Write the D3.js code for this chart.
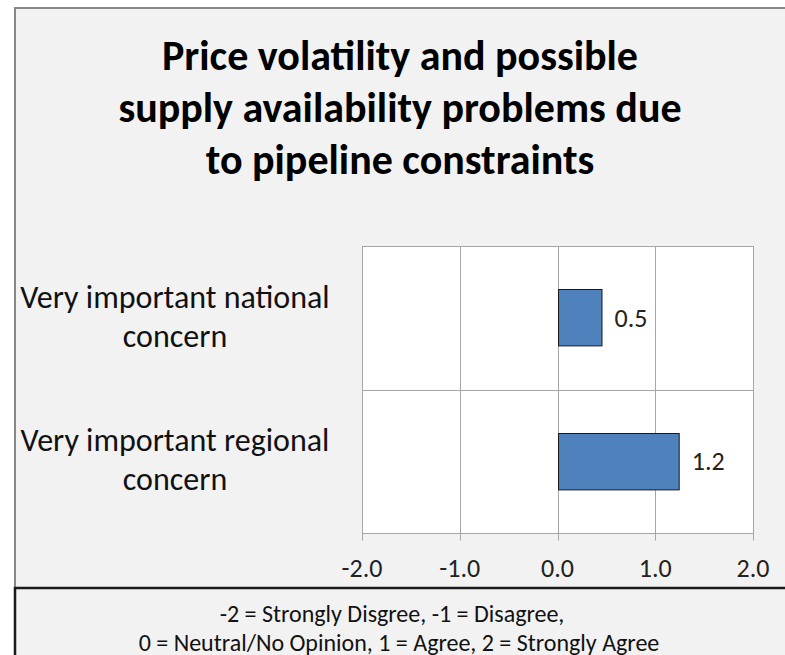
<!DOCTYPE html>
<html lang="en">
  <head>
    <meta charset="UTF-8">
    <title>Price volatility</title>
    <style>
      html, body {
        margin: 0;
        padding: 0;
        background: #fff;
      }

      text {
        font-family: Carlito, Calibri, Lato, sans-serif;
        fill: #000;
      }

      .grid line {
        stroke: #a6a6a6;
        stroke-width: 1px;
      }

      .bar {
        fill: #4f81bd;
        stroke: #1a1a1a;
        stroke-width: 1px;
      }
    </style>
  </head>
  <body>
    <svg width="785" height="655"></svg>
    <script src="https://cdn.jsdelivr.net/npm/d3@7/dist/d3.min.js"></script>
    <script>
      // data
      const titleLines = ['Price volatility and possible', 'supply availability problems due', 'to pipeline constraints']
      const categories = ['Very important national concern', 'Very important regional concern']
      const categoryLines = [['Very important national', 'concern'], ['Very important regional', 'concern']]
      const values = [0.45, 1.24]
      const ticks = [-2, -1, 0, 1, 2]
      const footnote = ['-2 = Strongly Disgree, -1 = Disagree,', '0 = Neutral/No Opinion, 1 = Agree, 2 = Strongly Agree']

      const svg = d3.select('svg')

      // chart frame
      svg.append('rect')
        .attr('x', 15).attr('y', 8)
        .attr('width', 800).attr('height', 620)
        .attr('fill', '#f2f2f2')
        .attr('stroke', '#888').attr('stroke-width', 2)

      // footnote box
      svg.append('rect')
        .attr('x', 15).attr('y', 588)
        .attr('width', 800).attr('height', 100)
        .attr('fill', '#f2f2f2')
        .attr('stroke', '#1a1a1a').attr('stroke-width', 2.5)

      // title
      svg.append('g').selectAll('text')
        .data(titleLines)
        .enter().append('text')
        .attr('x', 400)
        .attr('y', (d, i) => 70 + i * 52)
        .attr('text-anchor', 'middle')
        .style('font-size', '42px')
        .style('font-weight', 'bold')
        .text(d => d)

      const x = d3.scaleLinear().domain([-2, 2]).range([362, 753])
      const y = d3.scaleBand().domain(categories).range([246, 533])
        .paddingInner(0.6).paddingOuter(0.3)

      // plot background
      svg.append('rect')
        .attr('x', x(-2)).attr('y', 246)
        .attr('width', x(2) - x(-2)).attr('height', 533 - 246)
        .attr('fill', '#fff')

      const grid = svg.append('g').attr('class', 'grid')

      // vertical gridlines + tick marks
      grid.selectAll('.vg')
        .data(ticks)
        .enter().append('line')
        .attr('x1', d => Math.round(x(d)) + 0.5)
        .attr('x2', d => Math.round(x(d)) + 0.5)
        .attr('y1', 246)
        .attr('y2', 540.5)

      // category separators (top, between, bottom axis)
      const seps = [246, 246 + (533 - 246) / 2, 533]
      grid.selectAll('.hg')
        .data(seps)
        .enter().append('line')
        .attr('x1', x(-2))
        .attr('x2', x(2) + 1)
        .attr('y1', d => Math.round(d) + 0.5)
        .attr('y2', d => Math.round(d) + 0.5)

      // x tick labels
      svg.append('g').selectAll('text')
        .data(ticks)
        .enter().append('text')
        .attr('x', d => x(d))
        .attr('y', 577)
        .attr('text-anchor', 'middle')
        .style('font-size', '26px')
        .style('fill', '#222')
        .text(d => d3.format('.1f')(d).replace('−', '-'))

      // bars
      svg.append('g').selectAll('rect')
        .data(values)
        .enter().append('rect')
        .attr('class', 'bar')
        .attr('x', Math.round(x(0)) + 0.5)
        .attr('y', (d, i) => Math.round(y(categories[i])) + 0.5)
        .attr('width', d => x(d) - Math.round(x(0)))
        .attr('height', y.bandwidth() - 1)

      // value labels
      svg.append('g').selectAll('text')
        .data(values)
        .enter().append('text')
        .attr('x', d => x(d) + 13)
        .attr('y', (d, i) => y(categories[i]) + y.bandwidth() / 2 + 9)
        .style('font-size', '26px')
        .style('fill', '#222')
        .text(d => d3.format('.1f')(d))

      // category labels
      const cat = svg.append('g').selectAll('text')
        .data(categoryLines)
        .enter().append('text')
        .attr('text-anchor', 'middle')
        .style('font-size', '32px')
        .style('fill', '#111')
        .attr('y', (d, i) => y(categories[i]) + y.bandwidth() / 2 - 10)

      cat.selectAll('tspan')
        .data(d => d)
        .enter().append('tspan')
        .attr('x', 175)
        .attr('dy', (d, i) => i === 0 ? 0 : 39)
        .text(d => d)

      // footnote
      svg.append('g').selectAll('text')
        .data(footnote)
        .enter().append('text')
        .attr('x', (d, i) => i === 0 ? 392 : 399)
        .attr('y', (d, i) => 622 + i * 29)
        .attr('text-anchor', 'middle')
        .style('font-size', '24px')
        .style('fill', '#111')
        .text(d => d)
    </script>
  </body>
</html>
